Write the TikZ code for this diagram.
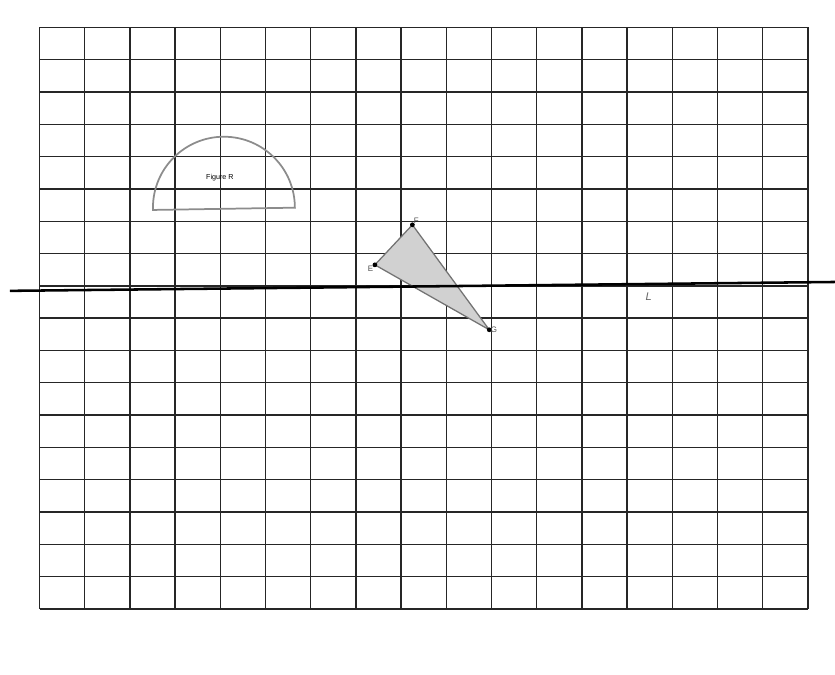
\documentclass[tikz,border=0pt]{standalone}
\usepackage{fontspec}
\setmainfont{Liberation Sans}
\usepackage{tikz}

\begin{document}
\begin{tikzpicture}[x=1cm, y=0.7146cm,
  every node/.style={inner sep=1pt, outer sep=0pt},
  ptlabel/.style={font=\fontsize{5}{5}\selectfont, text=black!70},
  ptdot/.style={circle, fill=black, minimum size=3pt, inner sep=0pt}]
\useasboundingbox (-0.874,-2.043) rectangle (17.6,18.85);
\draw[step=1, color=black!85, line width=0.9pt] (0,0) grid (17,18);

% figure R
\draw[black!45, line width=1.1pt] (2.51,12.35) -- (5.65,12.42)
  arc[start angle=0, end angle=180, radius=1.57cm] -- cycle;
\node (figR) at (3.99,13.34) {\fontsize{4.5}{4.5}\selectfont Figure R};

% triangle EFG
\coordinate (E) at (7.42,10.65);
\coordinate (F) at (8.25,11.89);
\coordinate (G) at (9.95,8.64);
\filldraw[fill=black!18, draw=black!55, line width=0.8pt] (E) -- (F) -- (G) -- cycle;
\node[ptdot] (dotE) at (E) {};
\node[ptdot] (dotF) at (F) {};
\node[ptdot] (dotG) at (G) {};
\node[ptlabel, anchor=north east] (labE) at (E) {E};
\node[ptlabel, anchor=south west] (labF) at (F) {F};
\node[ptlabel, anchor=west] (labG) at (G) {G};

% line L
\coordinate (Lstart) at (-0.653,9.845);
\coordinate (Lend) at (17.6,10.12);
\draw[black, line width=1.6pt] (Lstart) -- (Lend);
\node[text=black!60] (labL) at (13.48,9.66) {\fontsize{7}{7}\selectfont\itshape L};
\end{tikzpicture}
\end{document}
